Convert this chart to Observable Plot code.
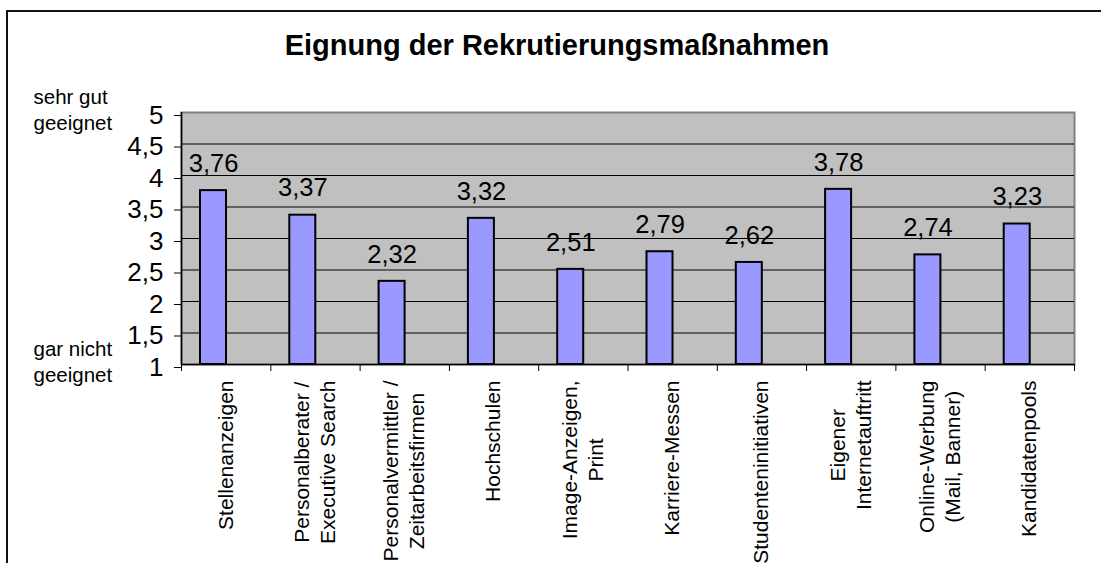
<!DOCTYPE html>
<html>
<head>
<meta charset="utf-8">
<script src="https://cdn.jsdelivr.net/npm/d3@7"></script>
<script src="https://cdn.jsdelivr.net/npm/@observablehq/plot@0.6"></script>
<style>
  html, body { margin: 0; padding: 0; background: #fff; overflow: hidden; }
  #wrap { position: relative; width: 1101px; height: 563px; }
  #border { position: absolute; left: 6px; top: 10px; width: 1200px; height: 700px; border: 2px solid #111; box-sizing: border-box; }
  #title { position: absolute; left: 0; top: 31px; width: 1114px; text-align: center; font: bold 29px "Liberation Sans", Arial, sans-serif; line-height: 1; color: #000; }
  #chart { position: absolute; left: 0; top: 0; }
</style>
</head>
<body>
<div id="wrap">
  <div id="border"></div>
  <div id="chart"></div>
  <div id="title">Eignung der Rekrutierungsmaßnahmen</div>
</div>
<script>
const categories = [
  "Stellenanzeigen",
  "Personalberater /\nExecutive Search",
  "Personalvermittler /\nZeitarbeitsfirmen",
  "Hochschulen",
  "Image-Anzeigen,\nPrint",
  "Karriere-Messen",
  "Studenteninitiativen",
  "Eigener\nInternetauftritt",
  "Online-Werbung\n(Mail, Banner)",
  "Kandidatenpools"
];
const values = [3.76, 3.37, 2.32, 3.32, 2.51, 2.79, 2.62, 3.78, 2.74, 3.23];
const yTicks = [1, 1.5, 2, 2.5, 3, 3.5, 4, 4.5, 5];
const scaleLabels = [
  {y: 5, text: "sehr gut\ngeeignet"},
  {y: 1, text: "gar nicht\ngeeignet"}
];

const data = categories.map((c, i) => ({i, cat: c, v: values[i]}));
const fmt = d => String(d).replace(".", ",");
const font = '"Liberation Sans", Arial, sans-serif';

const ctx = document.createElement("canvas").getContext("2d");
ctx.font = `21px "Liberation Sans"`;
const maxLineWidth = s => Math.max(...s.split("\n").map(l => ctx.measureText(l).width));

const catMarks = data.map(d => Plot.text([d], {
  x: e => e.i + 0.5,
  frameAnchor: "bottom",
  text: "cat",
  rotate: -90,
  textAnchor: "middle",
  lineAnchor: "middle",
  lineHeight: 1.25,
  fontSize: 21,
  dx: -2,
  dy: 16 + maxLineWidth(d.cat) / 2,
  fill: "#000"
}));

const chart = Plot.plot({
  width: 1101,
  height: 563,
  marginTop: 112,
  marginBottom: 199,
  marginLeft: 181,
  marginRight: 27,
  style: {fontFamily: font, background: "transparent", overflow: "visible"},
  x: {domain: [0, categories.length], axis: null, label: null},
  y: {domain: [1, 5], axis: null, label: null},
  marks: [
    Plot.frame({fill: "#c0c0c0", stroke: "#808080", strokeWidth: 2}),
    Plot.ruleY(yTicks.filter(t => t > 1 && t < 5), {stroke: "#000", strokeWidth: 1}),
    Plot.rectY(data, {
      x1: "i", x2: d => d.i + 1, y1: 1, y2: "v",
      insetLeft: 19, insetRight: 44.3,
      fill: "#9999ff", stroke: "#000", strokeWidth: 2
    }),
    Plot.text(data, {
      x: d => d.i + 0.5, y: "v", text: d => fmt(d.v),
      dx: -12.6, dy: -27, fontSize: 25.5, fill: "#000"
    }),
    Plot.ruleX([0], {stroke: "#000", strokeWidth: 1.5}),
    Plot.ruleY([1], {stroke: "#000", strokeWidth: 1.5}),
    Plot.axisY({
      ticks: yTicks, tickFormat: fmt, tickSize: 7, tickPadding: 11,
      fontSize: 26, stroke: "#000", fill: "#000", dy: 3, label: null
    }),
    Plot.axisX({
      ticks: d3.range(0, categories.length + 1), tickFormat: () => "",
      tickSize: 7, stroke: "#000", label: null
    }),
    Plot.text(scaleLabels, {
      y: "y", text: "text", frameAnchor: "left", textAnchor: "start",
      lineAnchor: "middle", lineHeight: 1.25, fontSize: 20.5,
      dx: -148, dy: -4, fill: "#000"
    }),
    ...catMarks
  ]
});
document.getElementById("chart").append(chart);
</script>
</body>
</html>
